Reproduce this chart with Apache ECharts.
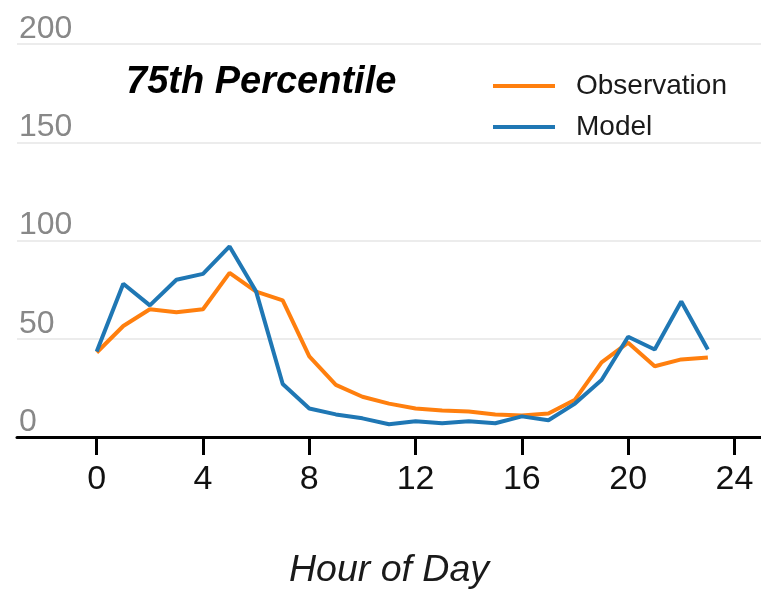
<!DOCTYPE html>
<html>
<head>
<meta charset="utf-8">
<script src="https://cdn.jsdelivr.net/npm/echarts@6/dist/echarts.min.js"></script>
<style>html,body{margin:0;padding:0;background:#fff;}#c{width:761px;height:590px;}</style>
</head>
<body>
<div id="c"></div>
<script>
var hours = [0,1,2,3,4,5,6,7,8,9,10,11,12,13,14,15,16,17,18,19,20,21,22,23];
var observation = [43, 56.5, 65, 63.5, 65, 83.5, 74, 69.5, 41, 26.5, 20.5, 17, 14.5, 13.5, 13, 11.5, 11, 12, 19, 38, 48, 36, 39.5, 40.5];
var model = [43.5, 78, 67, 80, 83, 97, 74, 27, 14.5, 11.5, 9.5, 6.5, 8, 7, 8, 7, 10.5, 8.5, 17, 29, 51, 44.5, 69, 44.5];
var xTicks = [0, 4, 8, 12, 16, 20, 24];
var yTicks = [0, 50, 100, 150, 200];

function pairs(xs, ys) { return xs.map(function (x, i) { return [x, ys[i]]; }); }

var font = 'Liberation Sans, Arial, Helvetica, sans-serif';
var chart = echarts.init(document.getElementById('c'), null, {renderer: 'canvas'});
chart.setOption({
  animation: false,
  backgroundColor: '#fff',
  title: {
    text: '75th Percentile',
    left: 121, top: 59,
    textStyle: {fontFamily: font, fontSize: 38, fontWeight: 'bold', fontStyle: 'italic', color: '#000'}
  },
  legend: {
    orient: 'vertical',
    left: 488, top: 67,
    icon: 'rect',
    itemWidth: 62, itemHeight: 4,
    itemGap: 13,
    data: ['Observation', 'Model'],
    textStyle: {fontFamily: font, fontSize: 28, color: '#1a1a1a', padding: [0, 0, 0, 16], lineHeight: 28}
  },
  grid: {left: 17, right: 0, top: 44, bottom: 153, containLabel: false, outerBoundsMode: 'none'},
  xAxis: {
    type: 'value', min: -3, max: 25,
    name: 'Hour of Day', nameLocation: 'middle', nameGap: 115,
    nameTextStyle: {fontFamily: font, fontSize: 37.5, fontStyle: 'italic', color: '#1a1a1a'},
    axisLine: {show: true, lineStyle: {color: '#000', width: 3}},
    axisTick: {show: true, length: 18, lineStyle: {color: '#000', width: 3}, customValues: xTicks},
    axisLabel: {fontFamily: font, fontSize: 34, color: '#111', margin: 26, customValues: xTicks},
    splitLine: {show: false}
  },
  yAxis: {
    type: 'value', min: 0, max: 200, interval: 50,
    axisLine: {show: false},
    axisTick: {show: false},
    axisLabel: {inside: true, fontFamily: font, fontSize: 32, color: '#888', margin: 2, verticalAlign: 'bottom', align: 'left', padding: [0, 0, -1, 0]},
    splitLine: {show: true, lineStyle: {color: '#e6e6e6', width: 1.5}}
  },
  series: [
    {name: 'Observation', type: 'line', data: pairs(hours, observation), showSymbol: false, symbol: 'none',
     lineStyle: {color: '#ff7f0e', width: 4}, itemStyle: {color: '#ff7f0e'}},
    {name: 'Model', type: 'line', data: pairs(hours, model), showSymbol: false, symbol: 'none',
     lineStyle: {color: '#1f77b4', width: 4}, itemStyle: {color: '#1f77b4'}}
  ]
});
</script>
</body>
</html>
